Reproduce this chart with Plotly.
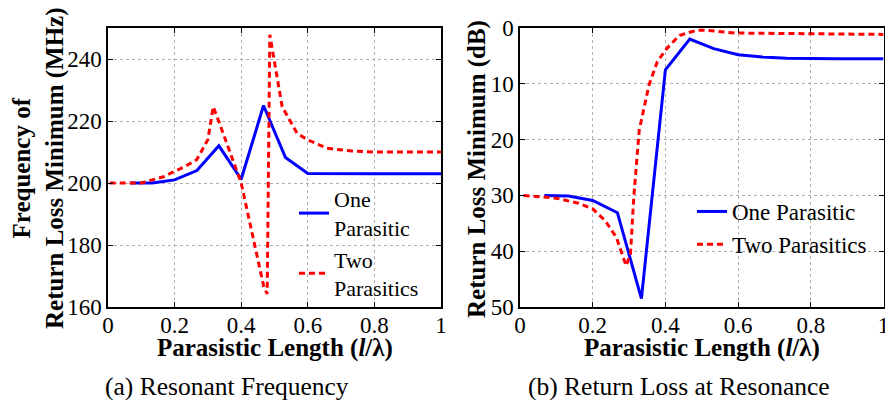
import plotly.graph_objects as go

# (a) resonant frequency, MHz
one_x_a = [0.067, 0.133, 0.2, 0.267, 0.333, 0.4, 0.467, 0.533, 0.6, 0.667, 0.733, 0.8, 0.867, 0.933, 1.0]
one_y_a = [200, 200, 201, 204, 212, 201.2, 225, 208.2, 203.1, 203, 203, 203, 203, 203, 203]
two_x_a = [0.005, 0.1, 0.133, 0.167, 0.2, 0.233, 0.267, 0.3, 0.316, 0.333, 0.4, 0.468, 0.478, 0.486,
           0.523, 0.568, 0.6, 0.658, 0.733, 0.8, 0.867, 0.933, 1.0]
two_y_a = [200, 200, 201, 202, 203.8, 205.4, 207.6, 214, 224.6, 219.8, 200, 166.5, 164.2, 247.8,
           224.6, 216, 213.9, 211.2, 210.3, 210, 210, 210, 210]

# (b) return loss minimum, dB
one_x_b = [0.067, 0.133, 0.2, 0.268, 0.334, 0.4, 0.467, 0.533, 0.6, 0.667, 0.733, 0.8, 0.867, 0.933, 1.0]
one_y_b = [30, 30.1, 30.9, 33.1, 48.5, 7.5, 2.0, 3.7, 4.8, 5.2, 5.4, 5.5, 5.5, 5.5, 5.5]
two_x_b = [0.01, 0.1, 0.161, 0.2, 0.234, 0.265, 0.292, 0.304, 0.313, 0.322, 0.328, 0.342, 0.355,
           0.378, 0.405, 0.427, 0.44, 0.486, 0.51, 0.59, 0.71, 0.85, 1.0]
two_y_b = [30, 30.5, 31.4, 32.4, 34.5, 37.5, 42.6, 40.5, 30.3, 22.5, 18.3, 14.1, 10.2,
           6.0, 3.6, 2.1, 1.3, 0.4, 0.4, 0.9, 1.0, 1.1, 1.15]

xticks = [0, 0.2, 0.4, 0.6, 0.8, 1.0]
xticklabels = ["0", "0.2", "0.4", "0.6", "0.8", "1"]

# page body margin pushes the figure 8px right/down, so keep it 16px narrower
W, H = 877, 400
OFF = 8


# screen pixel -> paper fraction
def px(v):
    return (v - OFF) / W


def py(v):
    return 1 - (v - OFF) / H


serif = "Liberation Serif"
blue = dict(color="#0000ff", width=3)
red = dict(color="#ff0000", width=3, dash="6px,4px")

fig = go.Figure()
fig.add_trace(go.Scatter(x=one_x_a, y=one_y_a, mode="lines", line=blue, name="One<br>Parasitic",
                         xaxis="x", yaxis="y", legend="legend"))
fig.add_trace(go.Scatter(x=two_x_a, y=two_y_a, mode="lines", line=red, name="Two<br>Parasitics",
                         xaxis="x", yaxis="y", legend="legend"))
fig.add_trace(go.Scatter(x=one_x_b, y=one_y_b, mode="lines", line=blue, name="One Parasitic",
                         xaxis="x2", yaxis="y2", legend="legend2"))
fig.add_trace(go.Scatter(x=two_x_b, y=two_y_b, mode="lines", line=red, name="Two Parasitics",
                         xaxis="x2", yaxis="y2", legend="legend2"))

axis_common = dict(showline=True, linecolor="black", linewidth=1.5, mirror="ticks",
                   ticks="inside", ticklen=5, tickcolor="black",
                   showgrid=True, gridcolor="#b0b0b0", griddash="dot", gridwidth=1,
                   zeroline=False, automargin=False, ticklabeloverflow="allow",
                   tickfont=dict(family=serif, size=23, color="black"))
xaxis_common = dict(axis_common, range=[0, 1], tickvals=xticks, ticktext=xticklabels,
                    ticklabelstandoff=-3)

title_font = dict(family=serif, size=25, color="black")
xtitle = "<b>Parasistic Length (<i>l</i>/λ)</b>"

fig.update_layout(
    width=W, height=H,
    margin=dict(l=0, r=0, t=0, b=0),
    paper_bgcolor="white", plot_bgcolor="white",
    showlegend=True,
    xaxis=dict(xaxis_common, domain=[px(108), px(441)], anchor="y"),
    yaxis=dict(axis_common, domain=[py(307), py(28)], range=[160, 250],
               tickvals=[160, 180, 200, 220, 240], anchor="x"),
    xaxis2=dict(xaxis_common, domain=[px(520), px(883.5)], anchor="y2"),
    yaxis2=dict(axis_common, domain=[py(307), py(28)], range=[50, 0],
                tickvals=[0, 10, 20, 30, 40, 50], anchor="x2"),
    legend=dict(x=px(294), y=py(178), xanchor="left", yanchor="top",
                bgcolor="rgba(255,255,255,0)", font=dict(family=serif, size=22, color="black"),
                tracegroupgap=0),
    legend2=dict(x=px(692), y=py(190), xanchor="left", yanchor="top",
                 bgcolor="rgba(255,255,255,0)", font=dict(family=serif, size=23, color="black"),
                 tracegroupgap=0),
    annotations=[
        # axis titles
        dict(text=xtitle, x=px(274.5), y=py(348), xref="paper", yref="paper",
             xanchor="center", yanchor="middle", showarrow=False, font=title_font),
        dict(text=xtitle, x=px(702), y=py(348), xref="paper", yref="paper",
             xanchor="center", yanchor="middle", showarrow=False, font=title_font),
        dict(text="<b>Frequency of<br>Return Loss Minimum (MHz)</b>", x=px(38), y=py(168),
             xref="paper", yref="paper", xanchor="center", yanchor="middle",
             textangle=-90, showarrow=False, font=title_font),
        dict(text="<b>Return Loss Minimum (dB)</b>", x=px(477), y=py(169),
             xref="paper", yref="paper", xanchor="center", yanchor="middle",
             textangle=-90, showarrow=False, font=title_font),
        # sub-figure captions
        dict(text="(a) Resonant Frequency", x=px(227), y=py(386), xref="paper", yref="paper",
             xanchor="center", yanchor="middle", showarrow=False,
             font=dict(family=serif, size=25.5, color="black")),
        dict(text="(b) Return Loss at Resonance", x=px(679), y=py(386), xref="paper", yref="paper",
             xanchor="center", yanchor="middle", showarrow=False,
             font=dict(family=serif, size=25.5, color="black")),
    ],
)

fig.write_html("out.html")
